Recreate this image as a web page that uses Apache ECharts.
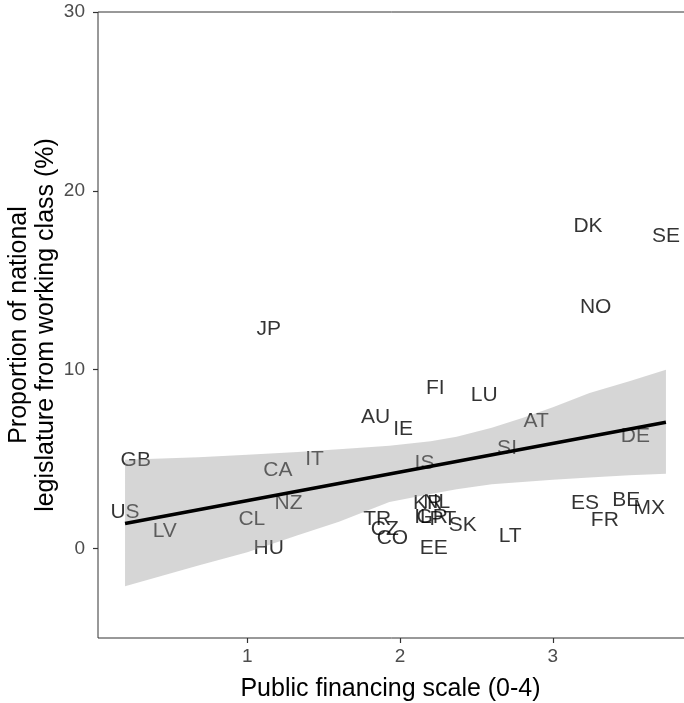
<!DOCTYPE html>
<html>
<head>
<meta charset="utf-8">
<script src="https://cdn.jsdelivr.net/npm/echarts@6/dist/echarts.min.js"></script>
<style>
  html, body { margin: 0; padding: 0; background: #fff; }
  #chart { width: 684px; height: 703px; }
</style>
</head>
<body>
<div id="chart"></div>
<script>
// country labels: code, financing scale (x), working-class share (y)
const countries = ["US", "GB", "LV", "CL", "HU", "CA", "NZ", "IT", "JP", "TR", "CZ", "CO",
  "AU", "IE", "IS", "FI", "KR", "NL", "IL", "GR", "PT", "EE", "SK", "LU",
  "SI", "AT", "LT", "ES", "DK", "NO", "FR", "BE", "DE", "MX", "SE"];
const finScale = [0.20, 0.27, 0.46, 1.03, 1.14, 1.20, 1.27, 1.44, 1.14, 1.85, 1.90, 1.95,
  1.84, 2.02, 2.16, 2.23, 2.18, 2.24, 2.15, 2.21, 2.28, 2.22, 2.41, 2.55,
  2.70, 2.89, 2.72, 3.21, 3.23, 3.28, 3.34, 3.48, 3.54, 3.63, 3.74];
const workShare = [2.05, 4.93, 0.97, 1.62, 0.0, 4.40, 2.53, 4.97, 12.25, 1.62, 1.06, 0.6,
  7.36, 6.65, 4.77, 8.98, 2.53, 2.62, 1.73, 1.73, 1.65, 0.0, 1.32, 8.59,
  5.59, 7.13, 0.69, 2.55, 18.03, 13.48, 1.56, 2.70, 6.26, 2.23, 17.45];

// linear fit and its confidence band
const fitX = [0.2, 3.74];
const fitY = [1.4, 7.06];
const bandX = [0.2, 0.68, 1.0, 1.33, 1.6, 1.93, 2.2, 2.37, 2.6, 2.8, 3.0, 3.24, 3.5, 3.74];
const bandLo = [-2.1, -0.95, -0.2, 0.75, 1.5, 2.6, 3.05, 3.32, 3.6, 3.72, 3.85, 3.98, 4.1, 4.19];
const bandHi = [4.97, 5.1, 5.25, 5.4, 5.55, 5.75, 6.0, 6.25, 6.75, 7.3, 7.9, 8.7, 9.35, 10.0];

// axis ticks
const xTicks = [1, 2, 3];
const yTicks = [0, 10, 20, 30];

const font = "'Liberation Sans', Arial, sans-serif";
const chart = echarts.init(document.getElementById("chart"), null, { renderer: "canvas" });

const labelData = countries.map((c, i) => [finScale[i], workShare[i], c]);
const fitData = fitX.map((x, i) => [x, fitY[i]]);

chart.setOption({
  animation: false,
  textStyle: { fontFamily: font },
  grid: {
    left: 98, top: 12, width: 595, height: 626,
    outerBoundsMode: "none",
    containLabel: false,
    show: true, borderColor: "#333", borderWidth: 1, backgroundColor: "transparent",
  },
  xAxis: {
    type: "value",
    min: 0.023,
    max: 3.917,
    axisLine: { show: false, onZero: false },
    splitLine: { show: false },
    axisTick: { show: true, length: 5, lineStyle: { color: "#333", width: 1.2 }, customValues: xTicks },
    axisLabel: { color: "#4d4d4d", fontSize: 19, margin: 9, fontFamily: font, customValues: xTicks },
    name: "Public financing scale (0-4)",
    nameLocation: "middle",
    nameGap: 39,
    nameMoveOverlap: false,
    nameTextStyle: { color: "#000", fontSize: 25, fontFamily: font, padding: [0, 10, 0, 0] },
  },
  yAxis: {
    type: "value",
    min: -5,
    max: 30,
    axisLine: { show: false, onZero: false },
    splitLine: { show: false },
    axisTick: { show: true, length: 5, lineStyle: { color: "#333", width: 1.2 }, customValues: yTicks },
    axisLabel: { color: "#4d4d4d", fontSize: 19, margin: 13, fontFamily: font, customValues: yTicks },
    name: "Proportion of national\nlegislature from working class (%)",
    nameLocation: "middle",
    nameRotate: 90,
    nameGap: 38,
    nameMoveOverlap: false,
    nameTextStyle: { color: "#000", fontSize: 25, lineHeight: 27, fontFamily: font },
  },
  series: [
    {
      name: "labels",
      type: "scatter",
      z: 1,
      symbolSize: 0.1,
      itemStyle: { color: "transparent" },
      data: labelData,
      label: {
        show: true,
        position: "inside",
        formatter: (p) => p.data[2],
        color: "#000",
        fontSize: 21,
        fontFamily: font,
      },
      silent: true,
    },
    {
      name: "band",
      type: "custom",
      z: 2,
      silent: true,
      data: [0],
      renderItem: (params, api) => {
        const pts = [];
        bandX.forEach((x, i) => pts.push(api.coord([x, bandHi[i]])));
        for (let i = bandX.length - 1; i >= 0; i--) pts.push(api.coord([bandX[i], bandLo[i]]));
        return {
          type: "polygon",
          shape: { points: pts },
          style: { fill: "rgba(153,153,153,0.4)", stroke: null },
        };
      },
    },
    {
      name: "fit",
      type: "line",
      z: 3,
      data: fitData,
      showSymbol: false,
      silent: true,
      lineStyle: { color: "#000", width: 3.6 },
    },
  ],
});
</script>
</body>
</html>
